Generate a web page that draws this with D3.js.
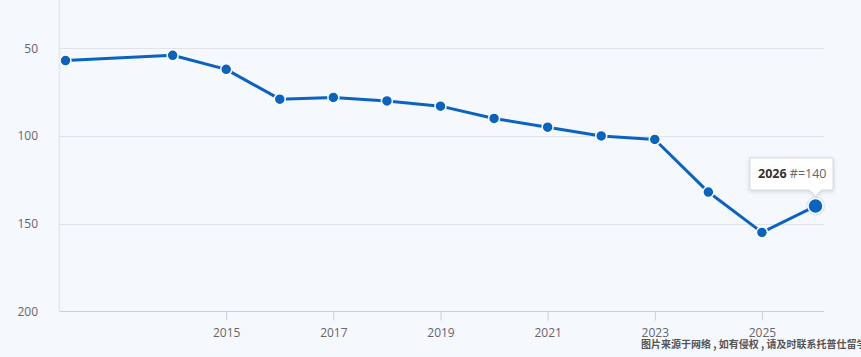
<!DOCTYPE html>
<html><head><meta charset="utf-8">
<script src="https://cdn.jsdelivr.net/npm/d3@7"></script>
<style>
html,body{margin:0;padding:0;background:#f5f8fd;}
svg{display:block;font-family:"Open Sans","Noto Sans",sans-serif;}
</style></head>
<body><svg id="c" width="861" height="357"></svg>
<script>
const years = [2012, 2014, 2015, 2016, 2017, 2018, 2019, 2020, 2021, 2022, 2023, 2024, 2025, 2026];
const ranks = [57, 54, 62, 79, 78, 80, 83, 90, 95, 100, 102, 132, 155, 140];
const yTicks = [50, 100, 150, 200];
const xTicks = [2015, 2017, 2019, 2021, 2023, 2025];
const highlight = {year: 2026, rank: 140};
const watermark = "图片来源于网络 , 如有侵权 , 请及时联系托普仕留学删除";

const svg = d3.select("#c");
const x = d3.scaleLinear().domain([2012, 2026]).range([65.5, 815.5]);
const y = d3.scaleLinear().domain([50, 200]).range([48.3, 311.3]);
const left = 59.5, right = 824;

svg.append("rect").attr("width",861).attr("height",357).attr("fill","#f5f8fd");

svg.append("g").selectAll("line").data(yTicks.slice(0,3)).join("line")
  .attr("x1", left).attr("x2", right)
  .attr("y1", d => Math.round(y(d))+0.5).attr("y2", d => Math.round(y(d))+0.5)
  .attr("stroke", "#dfe2e8").attr("stroke-width", 1);

svg.append("line").attr("x1", left).attr("x2", left).attr("y1", 0).attr("y2", y(200))
  .attr("stroke", "#e3e6ec").attr("stroke-width", 1.5);

svg.append("g").selectAll("text").data(yTicks).join("text")
  .attr("x", 38).attr("y", d => y(d)+4.5).attr("text-anchor","end")
  .attr("font-size", 12).attr("fill", "#666").text(d => d);

const xAxis = d3.axisBottom(x).tickValues(xTicks).tickFormat(d3.format("d")).tickSize(9).tickPadding(8);
const gx = svg.append("g").attr("transform", `translate(0,${Math.round(y(200))+0.5})`).call(xAxis);
gx.select(".domain").remove();
gx.selectAll(".tick line").attr("stroke", "#ccd0d8");
gx.selectAll(".tick text").attr("font-size", 12).attr("fill", "#666").attr("font-family","'Open Sans',sans-serif");
svg.append("line").attr("x1", left).attr("x2", right)
  .attr("y1", Math.round(y(200))+0.5).attr("y2", Math.round(y(200))+0.5)
  .attr("stroke", "#ccd0d8").attr("stroke-width", 1);

const data = years.map((d,i)=>({year:d, rank:ranks[i]}));
const line = d3.line().x(d=>x(d.year)).y(d=>y(d.rank));
svg.append("path").datum(data).attr("d", line).attr("fill","none")
  .attr("stroke","#0b63c1").attr("stroke-width",3).attr("stroke-linejoin","round");

svg.append("g").selectAll("circle").data(data.filter(d=>d.year!==highlight.year)).join("circle")
  .attr("cx", d=>x(d.year)).attr("cy", d=>y(d.rank)).attr("r", 5.5)
  .attr("fill","#0b63c1").attr("stroke","#fff").attr("stroke-width",1.5);

const hx = x(highlight.year), hy = y(highlight.rank);
svg.append("circle").attr("cx",hx).attr("cy",hy).attr("r",9.5).attr("fill","#0b63c1").attr("opacity",0.12);
svg.append("circle").attr("cx",hx).attr("cy",hy).attr("r",7.5)
  .attr("fill","#0b63c1").attr("stroke","#fff").attr("stroke-width",1.5);

const tt = svg.append("g");
const bx = 750, by = 158, bw = 83, bh = 32;
tt.append("path")
  .attr("d", `M${bx},${by} h${bw} v${bh} H${hx+6} l-6,6 l-6,-6 H${bx} Z`)
  .attr("fill","#fff").attr("stroke","#d8dbe0").attr("stroke-width",1)
  .style("filter","drop-shadow(0px 1px 2px rgba(0,0,0,0.15))");
const t = tt.append("text").attr("x", bx+8).attr("y", by+20).attr("font-size",12.5);
t.append("tspan").attr("font-weight","bold").attr("fill","#333").text(String(highlight.year));
t.append("tspan").attr("fill","#666").text(" #=" + highlight.rank);

svg.append("text").attr("x", 641).attr("y", 348).attr("font-size", 10)
  .attr("font-weight", "bold")
  .attr("font-family","'Noto Sans CJK SC',sans-serif").attr("fill","#555").text(watermark);
</script></body></html>
